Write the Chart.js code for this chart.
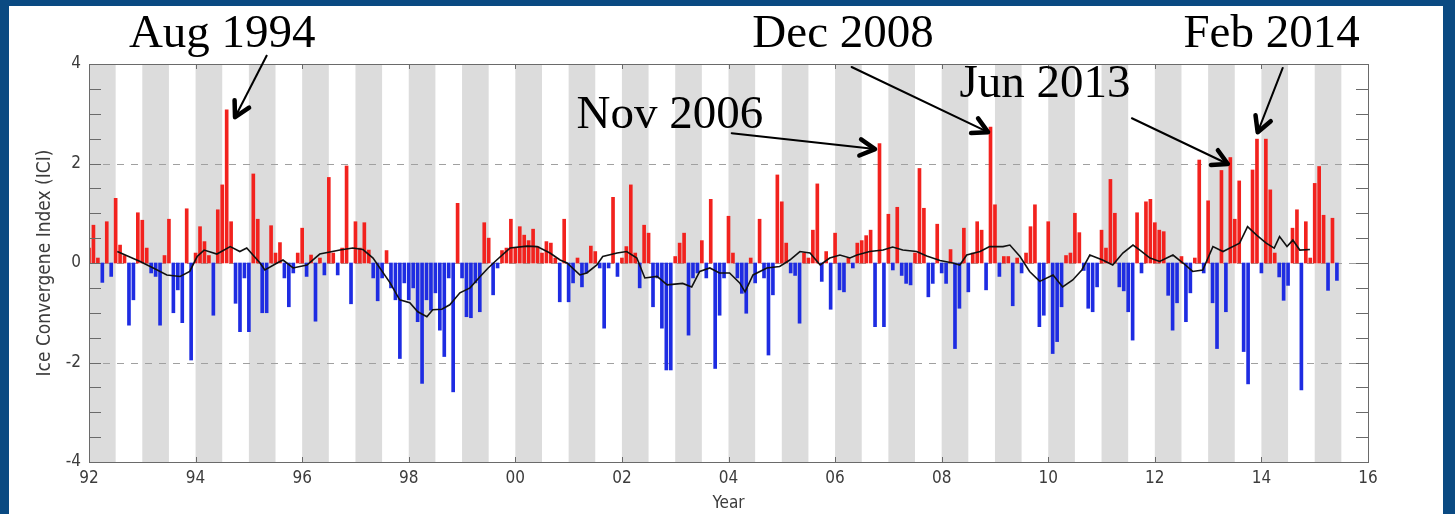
<!DOCTYPE html>
<html>
<head>
<meta charset="utf-8">
<script src="https://cdn.jsdelivr.net/npm/chart.js@4.4.0/dist/chart.umd.min.js"></script>
<style>
  html, body { margin: 0; padding: 0; background: #0a4a82; overflow: hidden; }
  #wrap { position: absolute; left: 0; top: 0; width: 1455px; height: 514px; }
</style>
</head>
<body>
<div id="wrap"><canvas id="c" width="1455" height="514"></canvas></div>
<script>
// Monthly Ice Convergence Index (ICI), January first in each row
const ici1992 = [0.30, 0.76, 0.10, -0.39, 0.83, -0.27, 1.30, 0.36, 0.15, -1.25, -0.74, 1.01];
const ici1993 = [0.86, 0.30, -0.20, -0.27, -1.25, 0.15, 0.88, -1.00, -0.54, -1.20, 1.09, -1.95];
const ici1994 = [0.20, 0.73, 0.43, 0.15, -1.05, 1.07, 1.57, 3.08, 0.83, -0.81, -1.38, -0.30];
const ici1995 = [-1.38, 1.79, 0.88, -1.00, -1.00, 0.75, 0.20, 0.41, -0.30, -0.88, -0.20, 0.20];
const ici1996 = [0.70, -0.27, 0.16, -1.17, 0.10, -0.24, 1.72, 0.20, -0.24, 0.30, 1.95, -0.82];
const ici1997 = [0.83, 0.30, 0.81, 0.26, -0.30, -0.76, -0.30, 0.25, -0.50, -0.74, -1.92, -0.40];
const ici1998 = [-0.74, -0.50, -1.18, -2.42, -0.74, -0.95, -0.60, -1.35, -1.88, -0.30, -2.59, 1.20];
const ici1999 = [-0.30, -1.08, -1.10, -0.40, -0.98, 0.81, 0.50, -0.64, -0.10, 0.25, 0.30, 0.88];
const ici2000 = [0.30, 0.73, 0.56, 0.45, 0.68, 0.33, 0.20, 0.43, 0.40, 0.10, -0.78, 0.88];
const ici2001 = [-0.78, -0.40, 0.10, -0.48, -0.20, 0.34, 0.23, -0.10, -1.31, -0.10, 1.32, -0.27];
const ici2002 = [0.10, 0.33, 1.57, 0.20, -0.50, 0.76, 0.60, -0.88, -0.30, -1.31, -2.15, -2.15];
const ici2003 = [0.13, 0.40, 0.60, -1.45, -0.30, -0.20, 0.45, -0.30, 1.28, -2.12, -1.05, -0.30];
const ici2004 = [0.94, 0.20, -0.30, -0.61, -1.01, 0.10, -0.40, 0.88, -0.30, -1.85, -0.64, 1.77];
const ici2005 = [1.23, 0.40, -0.20, -0.25, -1.21, 0.20, 0.10, 0.66, 1.59, -0.37, 0.23, -0.93];
const ici2006 = [0.60, -0.54, -0.58, 0.10, -0.10, 0.40, 0.45, 0.55, 0.66, -1.28, 2.40, -1.28];
const ici2007 = [0.98, -0.14, 1.12, -0.25, -0.41, -0.44, 0.20, 1.90, 1.10, -0.68, -0.41, 0.78];
const ici2008 = [-0.20, -0.41, 0.27, -1.72, -0.91, 0.70, -0.58, 0.20, 0.83, 0.66, -0.54, 2.73];
const ici2009 = [1.17, -0.27, 0.13, 0.13, -0.86, 0.10, -0.20, 0.20, 0.73, 1.17, -1.28, -1.05];
const ici2010 = [0.83, -1.82, -1.58, -0.88, 0.15, 0.20, 1.00, 0.61, -0.15, -0.91, -0.98, -0.48];
const ici2011 = [0.66, 0.30, 1.68, 1.00, -0.48, -0.56, -0.98, -1.55, 1.01, -0.20, 1.23, 1.28];
const ici2012 = [0.81, 0.66, 0.63, -0.65, -1.35, -0.80, 0.13, -1.18, -0.60, 0.10, 2.07, -0.20];
const ici2013 = [1.25, -0.80, -1.72, 1.86, -0.98, 2.12, 0.88, 1.65, -1.78, -2.43, 1.87, 2.49];
const ici2014 = [-0.20, 2.49, 1.47, 0.20, -0.28, -0.75, -0.45, 0.70, 1.07, -2.55, 0.83, 0.10];
const ici2015 = [1.60, 1.94, 0.96, -0.55, 0.90, -0.35];

const firstYear = 1992;
const iciRows = [ici1992, ici1993, ici1994, ici1995, ici1996, ici1997, ici1998, ici1999,
                 ici2000, ici2001, ici2002, ici2003, ici2004, ici2005, ici2006, ici2007,
                 ici2008, ici2009, ici2010, ici2011, ici2012, ici2013, ici2014, ici2015];

// Running mean (decimal year, value)
const meanYears = [1992.53, 1992.96, 1993.28, 1993.46, 1993.71, 1993.89, 1994.03, 1994.16, 1994.40, 1994.65,
  1994.83, 1994.96, 1995.21, 1995.30, 1995.53, 1995.64, 1995.83, 1996.09, 1996.33, 1996.71,
  1996.95, 1997.14, 1997.33, 1997.65, 1997.83, 1998.02, 1998.17, 1998.34, 1998.45, 1998.62,
  1998.77, 1998.96, 1999.15, 1999.34, 1999.49, 1999.65, 1999.90, 2000.22, 2000.41, 2000.65,
  2000.84, 2000.97, 2001.21, 2001.34, 2001.53, 2001.64, 2001.91, 2002.09, 2002.28, 2002.43,
  2002.66, 2002.85, 2003.14, 2003.31, 2003.46, 2003.65, 2003.83, 2004.02, 2004.21, 2004.31,
  2004.46, 2004.72, 2004.96, 2005.15, 2005.34, 2005.53, 2005.72, 2005.90, 2006.09, 2006.28,
  2006.41, 2006.65, 2006.90, 2007.08, 2007.27, 2007.53, 2007.72, 2007.97, 2008.21, 2008.34,
  2008.47, 2008.72, 2008.90, 2009.15, 2009.28, 2009.47, 2009.65, 2009.84, 2010.09, 2010.27,
  2010.46, 2010.63, 2010.78, 2011.02, 2011.21, 2011.40, 2011.59, 2011.72, 2011.91, 2012.09,
  2012.34, 2012.53, 2012.71, 2012.90, 2013.09, 2013.28, 2013.41, 2013.59, 2013.74, 2013.91,
  2014.09, 2014.24, 2014.34, 2014.48, 2014.59, 2014.72, 2014.91];
const meanValues = [0.23, 0.03, -0.14, -0.24, -0.27, -0.17, 0.13, 0.26, 0.18, 0.33,
  0.23, 0.30, 0.00, -0.14, 0.00, 0.06, -0.10, -0.04, 0.18, 0.26,
  0.30, 0.27, 0.10, -0.40, -0.74, -0.80, -0.98, -1.08, -0.94, -0.93,
  -0.84, -0.60, -0.50, -0.27, -0.10, 0.06, 0.30, 0.34, 0.33, 0.20,
  0.06, 0.00, -0.24, -0.20, -0.04, 0.13, 0.20, 0.23, 0.10, -0.30,
  -0.27, -0.44, -0.41, -0.48, -0.17, -0.10, -0.20, -0.20, -0.40, -0.58,
  -0.24, -0.10, -0.07, 0.06, 0.23, 0.20, -0.04, 0.10, 0.16, 0.10,
  0.16, 0.23, 0.26, 0.32, 0.26, 0.23, 0.14, 0.05, 0.00, -0.04,
  0.16, 0.23, 0.33, 0.33, 0.36, 0.13, -0.17, -0.37, -0.24, -0.48,
  -0.34, -0.14, 0.16, 0.06, -0.04, 0.20, 0.36, 0.26, 0.10, 0.03,
  0.16, 0.00, -0.17, -0.14, 0.33, 0.23, 0.30, 0.40, 0.73, 0.56,
  0.40, 0.30, 0.53, 0.33, 0.46, 0.26, 0.27];

// Shaded first half of each year
const shadedYears = [1992, 1993, 1994, 1995, 1996, 1997, 1998, 1999, 2000, 2001, 2002, 2003,
                     2004, 2005, 2006, 2007, 2008, 2009, 2010, 2011, 2012, 2013, 2014, 2015];
const yMajor = [-4, -2, 0, 2, 4];
const yDashed = [-2, 0, 2];

// Labelled events: text anchor and arrow (decimal year, ICI)
const events = [
  { text: 'Aug 1994', at: [1994.50, 4.34], from: [1995.34, 4.18], to: [1994.74, 2.93] },
  { text: 'Nov 2006', at: [2002.90, 2.71], from: [2004.06, 2.61], to: [2006.75, 2.29] },
  { text: 'Dec 2008', at: [2006.15, 4.34], from: [2006.31, 3.94], to: [2008.87, 2.63] },
  { text: 'Jun 2013', at: [2009.94, 3.34], from: [2011.57, 2.91], to: [2013.37, 1.99] },
  { text: 'Feb 2014', at: [2014.19, 4.34], from: [2014.40, 3.92], to: [2013.93, 2.63] }
];

const RED = 'rgb(242,34,30)';
const BLUE = 'rgb(30,44,226)';
const AXIS = '#6a6a6a';
const LABEL = '#3c3c3c';
const FONT = "'DejaVu Sans Condensed', 'Liberation Sans Narrow', 'DejaVu Sans', sans-serif";

const barPoints = [];
iciRows.forEach((row, i) => row.forEach((v, m) => barPoints.push({ x: firstYear + i + m / 12, y: v })));
const meanPoints = meanYears.map((t, i) => ({ x: t, y: meanValues[i] }));

const framePlugin = {
  id: 'frame',
  beforeDraw(chart) {
    const c = chart.ctx;
    c.save();
    c.fillStyle = '#0a4a82';
    c.fillRect(0, 0, chart.width, chart.height);
    c.fillStyle = '#ffffff';
    c.fillRect(9, 6, 1434, chart.height - 6);
    c.restore();
  }
};

const backdropPlugin = {
  id: 'backdrop',
  beforeDatasetsDraw(chart) {
    const { ctx: c, chartArea: a, scales: { x, y } } = chart;
    c.save();
    c.fillStyle = '#dcdcdc';
    shadedYears.forEach(yr => {
      const x0 = x.getPixelForValue(yr);
      const x1 = x.getPixelForValue(yr + 0.5);
      c.fillRect(x0, a.top, x1 - x0, a.bottom - a.top);
    });
    c.strokeStyle = '#a0a0a0';
    c.lineWidth = 1;
    c.setLineDash([7, 7]);
    yDashed.forEach(v => {
      const py = Math.round(y.getPixelForValue(v)) + 0.5;
      c.beginPath();
      c.moveTo(a.left, py);
      c.lineTo(a.right, py);
      c.stroke();
    });
    c.restore();
  }
};

const axesPlugin = {
  id: 'axesBox',
  afterDatasetsDraw(chart) {
    const { ctx: c, chartArea: a, scales: { x, y } } = chart;
    c.save();
    c.strokeStyle = AXIS;
    c.lineWidth = 1;
    c.strokeRect(Math.round(a.left) + 0.5, Math.round(a.top) + 0.5,
                 Math.round(a.right - a.left), Math.round(a.bottom - a.top));
    c.beginPath();
    for (let v = -4; v <= 4.001; v += 0.5) {
      const py = Math.round(y.getPixelForValue(v)) + 0.5;
      c.moveTo(a.left, py); c.lineTo(a.left + 12, py);
      c.moveTo(a.right, py); c.lineTo(a.right - 12, py);
    }
    for (let t = 1992; t <= 2016; t += 2) {
      const px = Math.round(x.getPixelForValue(t)) + 0.5;
      c.moveTo(px, a.bottom); c.lineTo(px, a.bottom - 5);
      c.moveTo(px, a.top); c.lineTo(px, a.top + 5);
    }
    c.stroke();
    c.restore();
  }
};

function arrow(c, x0, y0, x1, y1) {
  c.lineWidth = 2;
  c.beginPath();
  c.moveTo(x0, y0);
  c.lineTo(x1, y1);
  c.stroke();
  const ang = Math.atan2(y1 - y0, x1 - x0);
  const len = 17, spread = 0.5;
  c.lineWidth = 4.5;
  c.lineCap = 'round';
  c.lineJoin = 'round';
  c.beginPath();
  c.moveTo(x1 - len * Math.cos(ang - spread), y1 - len * Math.sin(ang - spread));
  c.lineTo(x1, y1);
  c.lineTo(x1 - len * Math.cos(ang + spread), y1 - len * Math.sin(ang + spread));
  c.stroke();
}

const eventPlugin = {
  id: 'events',
  afterDraw(chart) {
    const { ctx: c, scales: { x, y } } = chart;
    c.save();
    c.fillStyle = '#000';
    c.strokeStyle = '#000';
    c.font = "47px 'Liberation Serif', 'Times New Roman', serif";
    c.textAlign = 'center';
    c.textBaseline = 'alphabetic';
    events.forEach(e => {
      c.fillText(e.text, x.getPixelForValue(e.at[0]), y.getPixelForValue(e.at[1]));
      arrow(c, x.getPixelForValue(e.from[0]), y.getPixelForValue(e.from[1]),
               x.getPixelForValue(e.to[0]), y.getPixelForValue(e.to[1]));
    });
    c.restore();
  }
};

new Chart(document.getElementById('c'), {
  type: 'bar',
  data: {
    datasets: [
      {
        type: 'line',
        data: meanPoints,
        borderColor: '#111',
        borderWidth: 1.6,
        pointRadius: 0,
        tension: 0,
        order: 1
      },
      {
        type: 'bar',
        data: barPoints,
        backgroundColor: ctx => (ctx.raw && ctx.raw.y >= 0) ? RED : BLUE,
        borderWidth: 0,
        barThickness: 3,
        grouped: false,
        order: 2
      }
    ]
  },
  options: {
    responsive: false,
    devicePixelRatio: 1,
    animation: false,
    events: [],
    layout: { padding: { left: 10, right: 87, top: 64, bottom: 0 } },
    plugins: { legend: { display: false }, tooltip: { enabled: false } },
    scales: {
      x: {
        type: 'linear',
        min: 1992,
        max: 2016,
        offset: false,
        grid: { display: false, drawTicks: false },
        border: { display: false },
        ticks: {
          stepSize: 2,
          autoSkip: false,
          maxRotation: 0,
          padding: 6,
          color: LABEL,
          font: { family: FONT, size: 17 },
          callback: v => String(v % 100).padStart(2, '0')
        },
        title: {
          display: true,
          text: 'Year',
          color: LABEL,
          font: { family: FONT, size: 17 },
          padding: { top: 0, bottom: 0 }
        },
        afterFit: s => { s.height = 52; }
      },
      y: {
        min: -4,
        max: 4,
        grid: { display: false, drawTicks: false },
        border: { display: false },
        ticks: {
          stepSize: 2,
          padding: 8,
          color: LABEL,
          font: { family: FONT, size: 17 },
          callback: v => yMajor.includes(v) ? String(v) : ''
        },
        title: {
          display: true,
          text: 'Ice Convergene Index (ICI)',
          color: LABEL,
          font: { family: FONT, size: 19 },
          padding: { top: 24, bottom: 0 }
        },
        afterFit: s => { s.width = 79; }
      }
    }
  },
  plugins: [framePlugin, backdropPlugin, axesPlugin, eventPlugin]
});
</script>
</body>
</html>
